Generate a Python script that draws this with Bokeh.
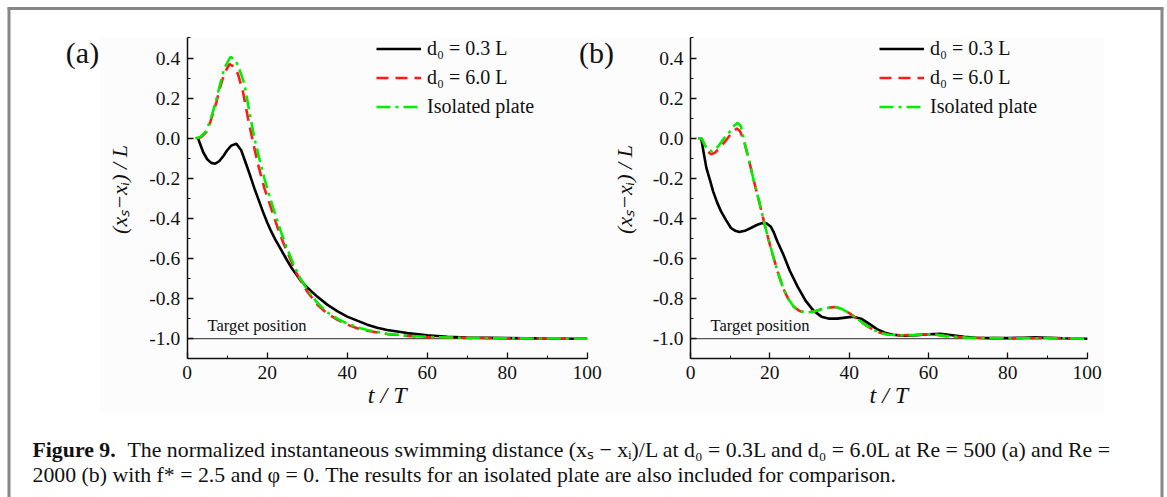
import math
from bokeh.plotting import figure
from bokeh.models import (Range1d, LinearAxis, SingleIntervalTicker,
                          PrintfTickFormatter, Legend, LegendItem)
from bokeh.core.properties import value
from bokeh.embed import file_html
from bokeh.resources import INLINE

# ---------------- data ----------------
series_labels = ["d₀ = 0.3 L", "d₀ = 6.0 L", "Isolated plate"]
panel_labels = ["(a)", "(b)"]
x_axis_label = "t / T"
y_axis_label = "(xₛ−xᵢ) / L"
target_label = "Target position"
target_value = -1.0

# Panel (a): Re = 500
t_a_d03 = [2.7, 4.0, 5.0, 6.0, 7.0, 8.0, 9.0, 10.0, 11.0, 12.3, 13.5, 14.75, 15.8,
           16.8, 17.9, 18.9, 20.0, 21.0, 22.0, 23.0, 24.0, 25.0, 26.2, 28.0, 30.0,
           32.5, 35.0, 37.5, 40.0, 42.5, 45.0, 47.5, 50.0, 55.0, 60.0, 65.0, 70.0,
           80.0, 90.0, 100.0]
y_a_d03 = [0.0, -0.07, -0.105, -0.123, -0.127, -0.115, -0.09, -0.06, -0.037, -0.028,
           -0.06, -0.13, -0.19, -0.25, -0.31, -0.365, -0.42, -0.465, -0.505, -0.54,
           -0.575, -0.61, -0.65, -0.70, -0.745, -0.79, -0.83, -0.862, -0.89, -0.91,
           -0.93, -0.945, -0.957, -0.972, -0.983, -0.99, -0.994, -0.997, -0.999, -1.0]

t_a_d60 = [2.5, 3.5, 4.75, 5.6, 6.4, 7.3, 8.1, 9.3, 10.6, 11.8, 12.7, 13.9, 15.2,
           16.4, 17.7, 19.3, 21.0, 22.5, 24.0, 25.5, 27.0, 28.5, 30.0, 32.5, 35.0,
           37.5, 40.0, 42.5, 45.0, 50.0, 55.0, 60.0, 70.0, 80.0, 90.0, 100.0]
y_a_d60 = [0.0, 0.005, 0.03, 0.07, 0.12, 0.18, 0.245, 0.325, 0.37, 0.355, 0.32,
           0.235, 0.10, -0.015, -0.13, -0.25, -0.35, -0.44, -0.52, -0.59, -0.66,
           -0.715, -0.765, -0.83, -0.875, -0.905, -0.93, -0.948, -0.96, -0.977,
           -0.986, -0.992, -0.996, -0.998, -0.999, -1.0]

t_a_iso = [2.0, 3.2, 4.75, 5.6, 6.4, 7.3, 8.1, 9.3, 10.8, 11.8, 12.8, 14.3, 15.6,
           16.8, 18.1, 19.3, 20.6, 22.0, 23.5, 25.0, 26.5, 28.0, 30.0, 32.5, 35.0,
           37.5, 40.0, 42.5, 45.0, 50.0, 55.0, 60.0, 70.0, 80.0, 90.0, 100.0]
y_a_iso = [0.0, 0.005, 0.035, 0.08, 0.13, 0.195, 0.26, 0.35, 0.405, 0.395, 0.36,
           0.27, 0.127, 0.0, -0.107, -0.2, -0.29, -0.38, -0.47, -0.55, -0.625,
           -0.69, -0.755, -0.82, -0.868, -0.9, -0.925, -0.943, -0.957, -0.975,
           -0.985, -0.991, -0.996, -0.998, -0.999, -1.0]

# Panel (b): Re = 2000
t_b_d03 = [2.7, 3.3, 4.0, 5.0, 5.7, 6.7, 7.7, 9.0, 10.2, 11.3, 12.3, 13.7, 15.2,
           16.7, 18.1, 19.2, 20.2, 21.0, 21.9, 23.4, 25.0, 27.0, 29.0, 31.0, 33.0,
           35.0, 37.0, 39.0, 41.0, 43.0, 45.0, 47.0, 49.0, 51.0, 54.0, 57.0, 60.0,
           63.0, 66.0, 69.0, 72.0, 76.0, 80.0, 84.0, 87.0, 90.0, 94.0, 100.0]
y_b_d03 = [0.0, -0.07, -0.148, -0.215, -0.265, -0.32, -0.365, -0.41, -0.448, -0.462,
           -0.468, -0.462, -0.448, -0.433, -0.423, -0.425, -0.44, -0.47, -0.515,
           -0.58, -0.66, -0.74, -0.81, -0.86, -0.89, -0.9, -0.9, -0.895, -0.89, -0.9,
           -0.925, -0.952, -0.97, -0.98, -0.985, -0.983, -0.978, -0.976, -0.983,
           -0.99, -0.995, -0.997, -0.997, -0.995, -0.993, -0.995, -0.998, -1.0]

t_b_d60 = [1.9, 2.8, 3.6, 4.4, 5.2, 6.2, 7.0, 7.9, 9.0, 10.2, 11.0, 11.7, 12.5,
           13.5, 14.8, 16.0, 17.3, 18.5, 19.8, 21.0, 22.2, 23.4, 24.6, 26.0, 27.5,
           29.0, 31.0, 33.0, 35.0, 36.5, 38.0, 40.0, 42.0, 44.0, 46.0, 48.0, 50.0,
           53.0, 56.0, 58.0, 60.0, 62.0, 64.0, 66.0, 70.0, 75.0, 80.0, 85.0, 90.0,
           95.0, 100.0]
y_b_d60 = [0.0, 0.0, -0.035, -0.068, -0.08, -0.072, -0.055, -0.035, -0.01, 0.022,
           0.038, 0.048, 0.035, -0.015, -0.115, -0.215, -0.315, -0.415, -0.515,
           -0.6, -0.68, -0.75, -0.8, -0.84, -0.862, -0.87, -0.865, -0.853, -0.845,
           -0.842, -0.85, -0.872, -0.9, -0.93, -0.955, -0.972, -0.98, -0.983,
           -0.982, -0.979, -0.978, -0.98, -0.986, -0.99, -0.995, -0.997, -0.998,
           -0.998, -0.997, -0.998, -1.0]

t_b_iso = [1.9, 2.8, 3.5, 4.4, 5.2, 6.2, 7.0, 8.1, 9.0, 10.2, 11.0, 11.9, 12.7,
           13.5, 14.8, 16.0, 17.3, 18.5, 19.8, 21.0, 22.2, 23.4, 24.6, 26.0, 27.5,
           29.0, 31.0, 33.0, 35.0, 36.5, 38.0, 40.0, 42.0, 44.0, 46.0, 48.0, 50.0,
           53.0, 56.0, 58.0, 60.0, 62.0, 64.0, 66.0, 70.0, 75.0, 80.0, 85.0, 90.0,
           95.0, 100.0]
y_b_iso = [0.0, 0.0, -0.03, -0.06, -0.065, -0.055, -0.04, -0.01, 0.012, 0.04,
           0.062, 0.077, 0.06, -0.01, -0.115, -0.215, -0.315, -0.415, -0.515,
           -0.6, -0.68, -0.75, -0.8, -0.84, -0.862, -0.87, -0.865, -0.853, -0.845,
           -0.842, -0.85, -0.872, -0.9, -0.93, -0.955, -0.972, -0.98, -0.983,
           -0.982, -0.979, -0.978, -0.98, -0.986, -0.99, -0.995, -0.997, -0.998,
           -0.998, -0.997, -0.998, -1.0]

x_bounds = (0, 100)
y_bounds = (-1.1, 0.5)
x_tick_step = 20
y_tick_step = 0.2

caption_bold = "Figure 9."
caption_line1 = ("The normalized instantaneous swimming distance (xₛ − xᵢ)/L at d₀ = 0.3L "
                 "and d₀ = 6.0L at Re = 500 (a) and Re =")
caption_line2 = ("2000 (b) with f* = 2.5 and φ = 0. The results for an isolated plate "
                 "are also included for comparison.")

# ---------------- layout constants ----------------
W, H = 1167, 497
SERIF = "Liberation Serif"
X0A, SXA = 186.7, 4.0      # pixel of t=0 and px per unit, panel (a)
X0B, SXB = 690.0, 3.967    # panel (b)
Y0, SY = 137.7, 200.5      # pixel of y=0 and px per unit (both panels)

p = figure(width=W, height=H, output_backend="svg", toolbar_location=None,
           title=None, x_axis_location=None, y_axis_location=None,
           x_range=Range1d(-X0A / SXA, (W - X0A) / SXA),
           y_range=Range1d(-(H - Y0) / SY, Y0 / SY),
           min_border=0, outline_line_color=None,
           background_fill_color="white", border_fill_color="white")
p.grid.visible = False
p.extra_x_ranges = {"b": Range1d(-X0B / SXB, (W - X0B) / SXB), "px": Range1d(0, W)}
p.extra_y_ranges = {"py": Range1d(0, H)}


def PY(y):
    return H - y


# faint chart background and outer frame
p.quad(left=[100], right=[1104], top=[PY(37)], bottom=[PY(412)],
       x_range_name="px", y_range_name="py", fill_color="#fcfcfc", line_color=None)
p.segment(x0=[8.5, 7, 1161.5], y0=[PY(7), PY(8), PY(7)],
          x1=[8.5, 1163, 1161.5], y1=[PY(H + 5), PY(8), PY(H + 5)],
          x_range_name="px", y_range_name="py", line_color="#878787", line_width=3)


def txt(x, y, s, size, style="normal", align="left", baseline="middle",
        angle=0.0, color="#111111"):
    p.text(x=[x], y=[PY(y)], text=[s], x_range_name="px", y_range_name="py",
           text_font=value(SERIF), text_font_size=size, text_font_style=style,
           text_align=align, text_baseline=baseline, angle=angle, text_color=color)


def style_axis(ax):
    ax.axis_line_color = "#111111"
    ax.axis_line_width = 1.5
    ax.major_tick_line_color = "#111111"
    ax.minor_tick_line_color = "#111111"
    ax.major_tick_line_width = 1.3
    ax.minor_tick_line_width = 1.0
    ax.major_tick_in = 6
    ax.major_tick_out = 0
    ax.minor_tick_in = 3
    ax.minor_tick_out = 0
    ax.major_label_text_font = SERIF
    ax.major_label_text_font_size = "19.5px"
    ax.major_label_text_color = "#111111"
    ax.major_label_standoff = 7


def panel(xname, series, legend_x, xlabel_cx, ylabel_cx, tag, tag_cx, target_x):
    xr = {} if xname == "default" else {"x_range_name": xname}
    # target line
    p.segment(x0=[x_bounds[0]], y0=[target_value], x1=[x_bounds[1]], y1=[target_value],
              line_color="#555555", line_width=1.2, **xr)
    rs = []
    colors = ["#000000", "#ff1a1a", "#00ee00"]
    dashes = ["solid", "12 7", "14 5 3 5"]
    for (tt, yy), c, d in zip(series, colors, dashes):
        rs.append(p.line(tt, yy, line_color=c, line_width=2.6, line_dash=d, **xr))

    xa = LinearAxis(fixed_location=y_bounds[0], bounds=x_bounds,
                    ticker=SingleIntervalTicker(interval=x_tick_step, num_minor_ticks=2),
                    formatter=PrintfTickFormatter(format="%d"), **xr)
    style_axis(xa)
    p.add_layout(xa, "below")
    ya = LinearAxis(fixed_location=0, bounds=y_bounds,
                    ticker=SingleIntervalTicker(interval=y_tick_step, num_minor_ticks=2),
                    formatter=PrintfTickFormatter(format="%.1f"), **xr)
    style_axis(ya)
    p.add_layout(ya, "left")

    leg = Legend(items=[LegendItem(label=lab, renderers=[r])
                        for lab, r in zip(series_labels, rs)],
                 location=(legend_x, H - 33.8 - 3 * 29), orientation="vertical",
                 glyph_width=45, glyph_height=29, label_height=29, spacing=0,
                 padding=0, margin=0, label_standoff=6,
                 label_text_font=SERIF, label_text_font_size="20px",
                 label_text_color="#111111",
                 border_line_color=None, background_fill_alpha=0)
    p.add_layout(leg, "center")

    txt(xlabel_cx, 394, x_axis_label, "24px", style="italic", align="center")
    txt(ylabel_cx, 189, y_axis_label, "22px", style="italic", align="center",
        angle=math.pi / 2)
    txt(tag_cx, 52, tag, "30px", align="center")
    txt(target_x, 325, target_label, "16.5px")


panel("default", [(t_a_d03, y_a_d03), (t_a_d60, y_a_d60), (t_a_iso, y_a_iso)],
      376, 386.7, 119, panel_labels[0], 82, 207)
panel("b", [(t_b_d03, y_b_d03), (t_b_d60, y_b_d60), (t_b_iso, y_b_iso)],
      879, 888.3, 624, panel_labels[1], 596, 710)

# caption
CAP = "21.8px"
txt(32, 449, caption_bold, CAP, style="bold", baseline="alphabetic")
txt(127, 449, caption_line1, CAP, baseline="alphabetic")
txt(32, 474, caption_line2, CAP, baseline="alphabetic")

open("out.html", "w").write(file_html(p, INLINE))
